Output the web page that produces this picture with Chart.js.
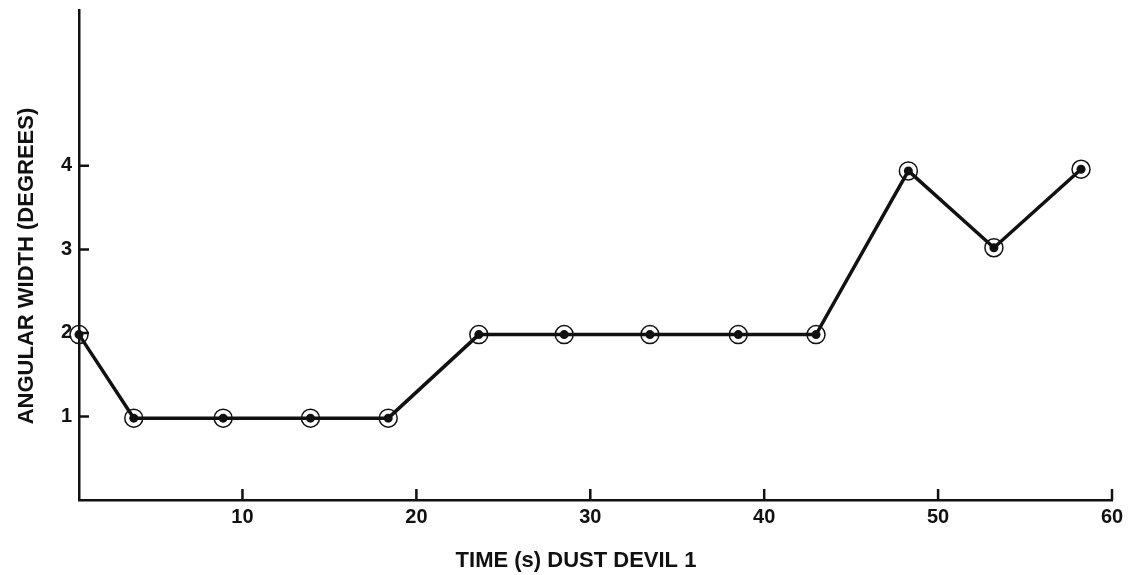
<!DOCTYPE html>
<html>
<head>
<meta charset="utf-8">
<script src="https://cdn.jsdelivr.net/npm/chart.js@4.4.1/dist/chart.umd.min.js"></script>
<style>
  html, body { margin: 0; padding: 0; background: #fff; }
  #wrap { width: 1133px; height: 575px; }
</style>
</head>
<body>
<div id="wrap"><canvas id="chart" width="1133" height="575"></canvas></div>
<script>
// Dust devil 1: angular width sampled over time
const timeSeconds  = [0.6, 3.75, 8.89, 13.91, 18.38, 23.59, 28.50, 33.43, 38.51, 42.98, 48.29, 53.21, 58.22];
const angularWidth = [1.98, 0.98, 0.98, 0.98, 0.98, 1.98, 1.98, 1.98, 1.98, 1.98, 3.94, 3.02, 3.96];
const xTickValues  = [10, 20, 30, 40, 50, 60];
const yTickValues  = [1, 2, 3, 4];
const xTitle = 'TIME (s) DUST DEVIL 1';
const yTitle = 'ANGULAR WIDTH (DEGREES)';

const points = timeSeconds.map((t, i) => ({ x: t, y: angularWidth[i] }));
const INK = '#111';
const FONT = '"Liberation Sans", Arial, Helvetica, sans-serif';

// Short tick marks pointing into the plot, plus the two axis titles
const axisDecor = {
  id: 'axisDecor',
  afterDraw(chart) {
    const { ctx, chartArea, scales } = chart;
    ctx.save();
    ctx.strokeStyle = INK;
    ctx.lineWidth = 2.5;
    ctx.beginPath();
    xTickValues.forEach(v => {
      const px = scales.x.getPixelForValue(v);
      ctx.moveTo(px, chartArea.bottom);
      ctx.lineTo(px, chartArea.bottom - 11);
    });
    yTickValues.forEach(v => {
      const py = scales.y.getPixelForValue(v);
      ctx.moveTo(chartArea.left, py);
      ctx.lineTo(chartArea.left + 10, py);
    });
    ctx.stroke();

    ctx.fillStyle = INK;
    ctx.font = 'bold 22px ' + FONT;
    ctx.textAlign = 'center';
    ctx.textBaseline = 'alphabetic';
    ctx.fillText(xTitle, 576, 567);

    ctx.translate(33, 266);
    ctx.rotate(-Math.PI / 2);
    ctx.fillText(yTitle, 0, 0);
    ctx.restore();
  }
};

new Chart(document.getElementById('chart'), {
  type: 'line',
  data: {
    datasets: [
      {
        data: points,
        borderColor: INK,
        borderWidth: 3.5,
        backgroundColor: INK,
        pointRadius: 4.5,
        pointBorderWidth: 0,
        pointBackgroundColor: INK,
        tension: 0,
        clip: false
      },
      {
        data: points,
        showLine: false,
        pointRadius: 9,
        pointBorderWidth: 1.5,
        pointBorderColor: INK,
        pointBackgroundColor: 'rgba(0,0,0,0)',
        clip: false
      }
    ]
  },
  options: {
    responsive: false,
    devicePixelRatio: 1,
    animation: false,
    layout: { padding: { top: 8, right: 21, left: 0, bottom: 0 } },
    plugins: { legend: { display: false }, tooltip: { enabled: false } },
    scales: {
      x: {
        type: 'linear',
        min: 0.6,
        max: 60,
        afterBuildTicks(scale) { scale.ticks = xTickValues.map(v => ({ value: v })); },
        afterFit(scale) { scale.height = 75; scale.paddingLeft = 0; scale.paddingRight = 0; },
        grid: { display: false, drawTicks: false },
        border: { display: true, color: INK, width: 2.5 },
        ticks: {
          color: INK,
          padding: 5,
          maxRotation: 0,
          autoSkip: false,
          font: { family: FONT, size: 20, weight: 'bold' },
          callback: v => String(v)
        }
      },
      y: {
        type: 'linear',
        min: 0,
        max: 5.86,
        afterBuildTicks(scale) { scale.ticks = yTickValues.map(v => ({ value: v })); },
        afterFit(scale) { scale.width = 79; scale.paddingTop = 0; scale.paddingBottom = 0; },
        grid: { display: false, drawTicks: false },
        border: { display: true, color: INK, width: 2.5 },
        ticks: {
          color: INK,
          padding: 7,
          autoSkip: false,
          font: { family: FONT, size: 20, weight: 'bold' },
          callback: v => String(v)
        }
      }
    }
  },
  plugins: [axisDecor]
});
</script>
</body>
</html>
